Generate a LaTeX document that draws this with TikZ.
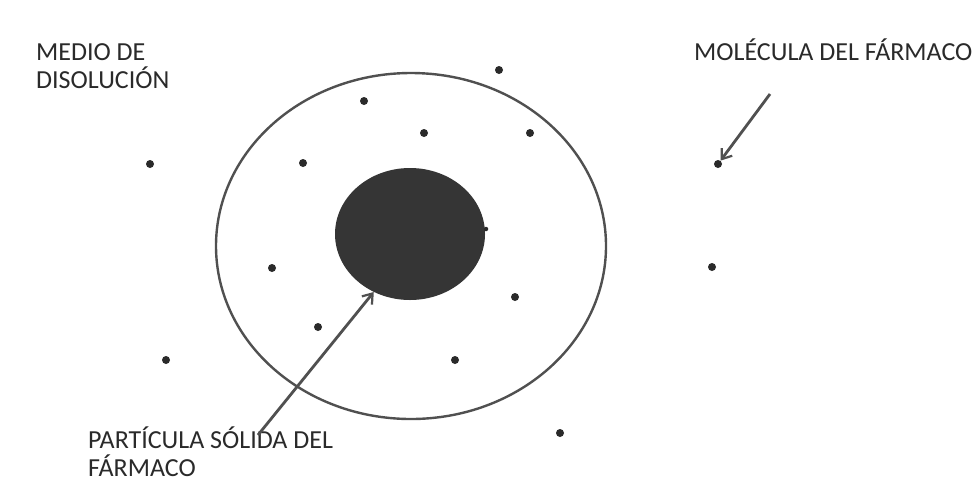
\documentclass[tikz,border=0pt]{standalone}
\usepackage{fontspec}
\setmainfont{Carlito}
\usetikzlibrary{arrows.meta,shapes.geometric}
\definecolor{ink}{HTML}{2A2A2A}
\definecolor{ring}{HTML}{505050}
\definecolor{solid}{HTML}{353535}
\begin{document}
\begin{tikzpicture}[x=1pt,y=-1pt,
  lbl/.style={anchor=base west,align=left,inner sep=0pt,text=ink,
    font=\fontsize{26}{28}\selectfont},
  mol/.style={circle,fill=ink,inner sep=0pt,minimum size=8pt},
  tinymol/.style={circle,fill=ink,inner sep=0pt,minimum size=4.5pt},
  ptr/.style={draw=ring,line width=2.8pt,-{Straight Barb[length=9pt,width=13pt,line width=2.2pt]}}]
\useasboundingbox[fill=white] (0,0) rectangle (979,491);
% diffusion layer
\node[ellipse,draw=ring,line width=2.4pt,minimum width=390pt,minimum height=346pt,inner sep=0pt] (layer) at (411,246) {};
% solid particle
\node[ellipse,fill=solid,minimum width=150pt,minimum height=132pt,inner sep=0pt] (particle) at (410,234) {};
% drug molecules
\node[mol] (d1) at (499,70) {};
\node[mol] (d2) at (364,101) {};
\node[mol] (d3) at (424,133) {};
\node[mol] (d4) at (530,133) {};
\node[mol] (d5) at (150,164) {};
\node[mol] (d6) at (303,163) {};
\node[mol] (d7) at (718,164) {};
\node[mol] (d8) at (272,268) {};
\node[mol] (d9) at (712,267) {};
\node[mol] (d10) at (515,297) {};
\node[mol] (d11) at (318,327) {};
\node[mol] (d12) at (166,360) {};
\node[mol] (d13) at (455,360) {};
\node[mol] (d14) at (560,433) {};
\node[tinymol] (d15) at (486,229) {};
% labels
\node[lbl] (medio) at (36,88) {MEDIO DE\\DISOLUCIÓN};
\node[lbl] (molec) at (694,60) {MOLÉCULA DEL FÁRMACO};
\node[lbl] (part) at (88,476) {PARTÍCULA SÓLIDA DEL\\FÁRMACO};
% pointers
\coordinate (ptail) at (258,435);
\coordinate (mtail) at (770,94);
\draw[ptr] (ptail) -- (particle.238);
\draw[ptr] (mtail) -- (d7);
\end{tikzpicture}
\end{document}
